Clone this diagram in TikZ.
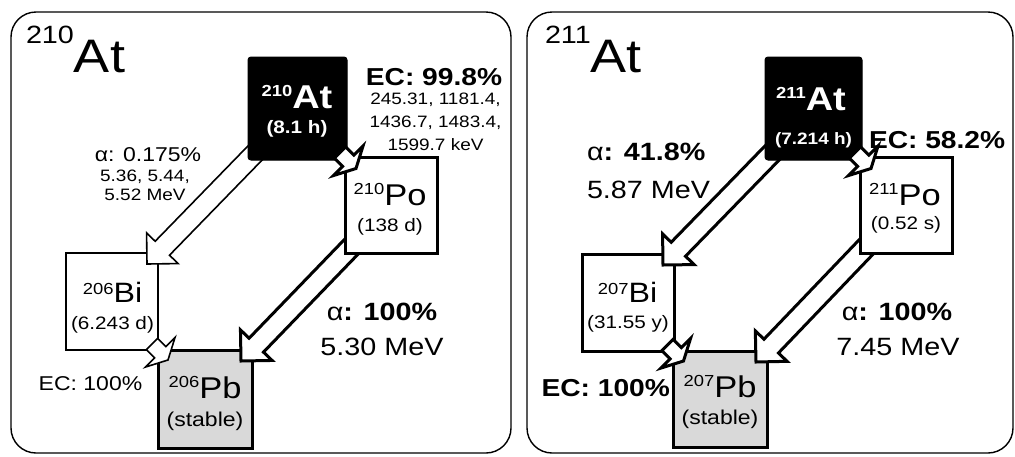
\documentclass[tikz,border=0pt]{standalone}
\usepackage{fontspec}
\setmainfont[FakeStretch=1.15]{Liberation Sans}
\usetikzlibrary{calc}
\pgfdeclarelayer{back}
\pgfdeclarelayer{mid}
\pgfsetlayers{back,mid,main}
\newcommand\fsz[1]{\fontsize{#1}{#1}\selectfont}
\newcommand\nuc[3]{\raisebox{#2}{\fsz{#1}#3}}
\newcommand\blkarr[6]{%
  \coordinate (ba-s) at #2;
  \coordinate (ba-t) at #3;
  \coordinate (ba-b) at ($(ba-t)!#6!(ba-s)$);
  \draw[#1] ($(ba-s)!#4!90:(ba-t)$) -- ($(ba-b)!#4!90:(ba-t)$) -- ($(ba-b)!#5!90:(ba-t)$)
    -- (ba-t) -- ($(ba-b)!#5!-90:(ba-t)$) -- ($(ba-b)!#4!-90:(ba-t)$) -- ($(ba-s)!#4!-90:(ba-t)$) -- cycle;
}
\begin{document}
\begin{tikzpicture}[x=1pt,y=-1pt,line join=miter]
\tikzset{
  frame/.style={draw=black, line width=1.4pt, rounded corners=25pt},
  nbox/.style={draw=black, fill=white, line width=3pt, inner sep=0pt, outer sep=0pt},
  thinbox/.style={nbox, line width=1.5pt},
  parent/.style={nbox, fill=black, line width=1pt, rounded corners=3pt},
  stable/.style={nbox, fill=black!15},
  thickarr/.style={draw=black, fill=white, line width=3pt},
  thinarr/.style={draw=black, fill=white, line width=1.6pt},
  txt/.style={inner sep=0pt, outer sep=0pt, anchor=base},
}
\useasboundingbox (0,0) rectangle (1015,456);

% ---------------- boxes ----------------
\begin{pgfonlayer}{back}
\fill[white] (0,0) rectangle (1015,456);
\draw[frame] (11,12) rectangle (511,453);
\draw[frame] (527,12) rectangle (1013,453);
\node[stable, minimum width=94pt, minimum height=98pt] (pb1) at (205,399) {};
\node[thinbox, minimum width=92pt, minimum height=97pt] (bi1) at (112,301.5) {};
\node[stable, minimum width=94pt, minimum height=96pt] (pb2) at (720,399) {};
\node[nbox, minimum width=92pt, minimum height=97pt] (bi2) at (628,302.5) {};
\end{pgfonlayer}
\node[nbox, minimum width=92pt, minimum height=96pt] (po1) at (391,205) {};
\node[parent, minimum width=99pt, minimum height=103pt] (at1) at (297.5,108.5) {};
\node[nbox, minimum width=92pt, minimum height=96pt] (po2) at (906,205) {};
\node[parent, minimum width=97pt, minimum height=103pt] (at2) at (813.5,108.5) {};

% ---------------- alpha arrows (under their source box) ----------------
\begin{pgfonlayer}{mid}
\blkarr{thickarr}{($(po1.south west)+(8,-8)$)}{($(pb1.north east)+(-11,11)$)}{10pt}{22pt}{22pt}
\blkarr{thinarr}{($(at1.south west)+(8,-8)$)}{($(bi1.north east)+(-11,11)$)}{10pt}{22pt}{22pt}
\blkarr{thickarr}{($(po2.south west)+(8,-8)$)}{($(pb2.north east)+(-11,11)$)}{10pt}{22pt}{22pt}
\blkarr{thickarr}{($(at2.south west)+(8,-8)$)}{($(bi2.north east)+(-11,11)$)}{10pt}{22pt}{22pt}
\end{pgfonlayer}

% ---------------- EC arrows (on top) ----------------
\coordinate (c1) at ($(at1.south east)!0.5!(po1.north west)$);
\blkarr{thickarr}{($(c1)+(-6,-6)$)}{($(c1)+(10,10)$)}{8pt}{21pt}{11pt}
\coordinate (c2) at ($(bi1.south east)!0.5!(pb1.north west)$);
\blkarr{thinarr}{($(c2)+(-6,-6)$)}{($(c2)+(10,10)$)}{8pt}{21pt}{11pt}
\coordinate (c3) at ($(at2.south east)!0.5!(po2.north west)$);
\blkarr{thickarr}{($(c3)+(-6,-6)$)}{($(c3)+(10,10)$)}{8pt}{21pt}{11pt}
\coordinate (c4) at ($(bi2.south east)!0.5!(pb2.north west)$);
\blkarr{thickarr}{($(c4)+(-6,-6)$)}{($(c4)+(10,10)$)}{8pt}{21pt}{11pt}

% ---------------- left panel texts ----------------
\node[txt, anchor=base west, font=\fsz{47}] (t1) at (26,72) {\nuc{25}{29pt}{210}At};
\node[txt, text=white, font=\bfseries\fsz{33}] (at1a) at (297,108) {\nuc{16}{12pt}{210}At};
\node[txt, text=white, font=\bfseries\fsz{18}] (at1b) at (297,133) {(8.1 h)};
\node[txt, font=\fsz{30}] (po1a) at (390,205) {\nuc{16}{11pt}{210}Po};
\node[txt, font=\fsz{18}] (po1b) at (390,231) {(138 d)};
\node[txt, font=\fsz{28}] (bi1a) at (112.5,302) {\nuc{16}{8pt}{206}Bi};
\node[txt, font=\fsz{18}] (bi1b) at (112.5,329) {(6.243 d)};
\node[txt, font=\fsz{30}] (pb1a) at (205,398) {\nuc{16}{11pt}{206}Pb};
\node[txt, font=\fsz{20}] (pb1b) at (205,426) {(stable)};

\node[txt, font=\bfseries\fsz{24.5}] (ec1) at (434,85) {EC: 99.8\%};
\node[txt, font=\fsz{16.5}] (g1) at (435.5,104) {245.31, 1181.4,};
\node[txt, font=\fsz{16.5}] (g2) at (435.5,127) {1436.7, 1483.4,};
\node[txt, font=\fsz{16.5}] (g3) at (435.5,150) {1599.7 keV};
\node[txt, font=\fsz{20}] (al1) at (148,161) {α: 0.175\%};
\node[txt, font=\fsz{16.5}] (al1b) at (145,181) {5.36, 5.44,};
\node[txt, font=\fsz{16.5}] (al1c) at (145,200) {5.52 MeV};
\node[txt, font=\fsz{25}] (al2) at (382,320) {α\textbf{: 100\%}};
\node[txt, font=\fsz{25}] (al2b) at (382,355) {5.30 MeV};
\node[txt, font=\fsz{20}] (ec2) at (90.5,390) {EC: 100\%};

% ---------------- right panel texts ----------------
\node[txt, anchor=base west, font=\fsz{47}] (t2) at (545,72) {\nuc{25}{29pt}{211}At};
\node[txt, text=white, font=\bfseries\fsz{33}] (at2a) at (811,110) {\nuc{16}{12pt}{211}At};
\node[txt, text=white, font=\bfseries\fsz{16.5}] (at2b) at (813.5,144) {(7.214 h)};
\node[txt, font=\fsz{30}] (po2a) at (905,205) {\nuc{16}{11pt}{211}Po};
\node[txt, font=\fsz{18}] (po2b) at (906,229) {(0.52 s)};
\node[txt, font=\fsz{28}] (bi2a) at (627.5,302) {\nuc{16}{8pt}{207}Bi};
\node[txt, font=\fsz{18}] (bi2b) at (628,328) {(31.55 y)};
\node[txt, font=\fsz{30}] (pb2a) at (720,397) {\nuc{16}{11pt}{207}Pb};
\node[txt, font=\fsz{20}] (pb2b) at (720,424) {(stable)};

\node[txt, anchor=base west, font=\fsz{25}] (al3) at (587,160) {α\textbf{: 41.8\%}};
\node[txt, anchor=base west, font=\fsz{25}] (al3b) at (587,198) {5.87 MeV};
\node[txt, anchor=base west, font=\bfseries\fsz{24.5}] (ec3) at (869,148) {EC: 58.2\%};
\node[txt, font=\fsz{25}] (al4) at (897,320) {α\textbf{: 100\%}};
\node[txt, font=\fsz{25}] (al4b) at (898,355) {7.45 MeV};
\node[txt, anchor=base east, font=\bfseries\fsz{24.5}] (ec4) at (670,396) {EC: 100\%};
\end{tikzpicture}
\end{document}
